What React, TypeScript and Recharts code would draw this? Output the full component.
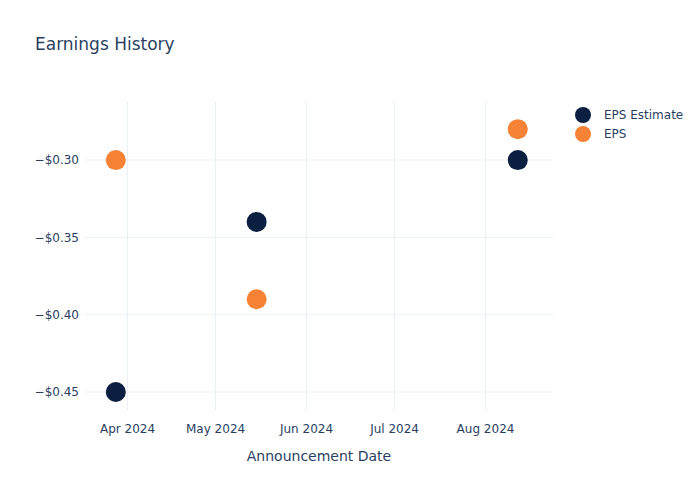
import React from "react"
import {
  ScatterChart,
  Scatter,
  XAxis,
  YAxis,
  CartesianGrid,
} from "recharts"

const dates = ["2024-03-28", "2024-05-15", "2024-08-12"]
const epsEstimate = [-0.45, -0.34, -0.3]
const epsActual = [-0.3, -0.39, -0.28]
const xTickDates = ["2024-04-01", "2024-05-01", "2024-06-01", "2024-07-01", "2024-08-01"]
const yTicks = [-0.45, -0.4, -0.35, -0.3]

const NAVY = "#0b1f41"
const ORANGE = "#f68236"
const TEXT = "#2a3f5f"
const GRID = "#ebf0f8"
const FONT = "'DejaVu Sans', Verdana, sans-serif"

const toTs = (d: string) => Date.parse(d + "T00:00:00Z")
const DAY = 86400000

const estimateData = dates.map((d, i) => ({ x: toTs(d), y: epsEstimate[i] }))
const epsData = dates.map((d, i) => ({ x: toTs(d), y: epsActual[i] }))
const xTicks = xTickDates.map(toTs)
const xDomain = [toTs("2024-03-17") + 0.5 * DAY, toTs("2024-08-24")]

const monthNames = ["Jan", "Feb", "Mar", "Apr", "May", "Jun", "Jul", "Aug", "Sep", "Oct", "Nov", "Dec"]
function fmtDate(v: number) {
  const d = new Date(v)
  return `${monthNames[d.getUTCMonth()]} ${d.getUTCFullYear()}`
}
function fmtMoney(v: number) {
  const s = "$" + Math.abs(v).toFixed(2)
  return v < 0 ? "\u2212" + s : s
}

const dot = (color: string) => (props: any) => (
  <circle cx={props.cx} cy={props.cy} r={10} fill={color} />
)

const legendItems = [
  { name: "EPS Estimate", color: NAVY },
  { name: "EPS", color: ORANGE },
]

function LegendBox() {
  return (
    <div
      style={{
        position: "absolute",
        left: 574,
        top: 105,
        fontFamily: FONT,
        fontSize: 12,
        color: TEXT,
        zIndex: 2,
      }}
    >
      {legendItems.map((it) => (
        <div key={it.name} style={{ display: "flex", alignItems: "center", height: 19 }}>
          <svg width={18} height={18} style={{ marginRight: 12 }}>
            <circle cx={9} cy={9} r={8} fill={it.color} />
          </svg>
          <span>{it.name}</span>
        </div>
      ))}
    </div>
  )
}

export default function App() {
  return (
    <div style={{ position: "relative", width: 700, height: 500, background: "#fff" }}>
      <style>{`body{margin:0}`}</style>
      <div
        style={{
          position: "absolute",
          left: 35,
          top: 34,
          fontFamily: FONT,
          fontSize: 17,
          color: TEXT,
          zIndex: 2,
        }}
      >
        Earnings History
      </div>
      <LegendBox />
      <ScatterChart
        width={700}
        height={500}
        margin={{ top: 101, right: 147, bottom: 0, left: 0 }}
        style={{ fontFamily: FONT }}
      >
        <CartesianGrid stroke={GRID} strokeWidth={1} verticalValues={xTicks} horizontalValues={yTicks} />
        <XAxis
          type="number"
          dataKey="x"
          domain={xDomain}
          ticks={xTicks}
          tickFormatter={fmtDate}
          allowDataOverflow
          axisLine={false}
          tickLine={false}
          tickSize={0}
          tickMargin={13}
          height={89}
          tick={{ fill: TEXT, fontSize: 12 }}
          label={{
            value: "Announcement Date",
            position: "insideBottom",
            offset: 39,
            fill: TEXT,
            fontSize: 14,
          }}
        />
        <YAxis
          type="number"
          dataKey="y"
          domain={[-0.4623, -0.2618]}
          ticks={yTicks}
          tickFormatter={fmtMoney}
          allowDataOverflow
          axisLine={false}
          tickLine={false}
          tickSize={0}
          tickMargin={6}
          width={85}
          tick={{ fill: TEXT, fontSize: 12 }}
        />
        <Scatter
          name="EPS Estimate"
          data={estimateData}
          fill={NAVY}
          shape={dot(NAVY)}
          isAnimationActive={false}
        />
        <Scatter
          name="EPS"
          data={epsData}
          fill={ORANGE}
          shape={dot(ORANGE)}
          isAnimationActive={false}
        />
      </ScatterChart>
    </div>
  )
}
